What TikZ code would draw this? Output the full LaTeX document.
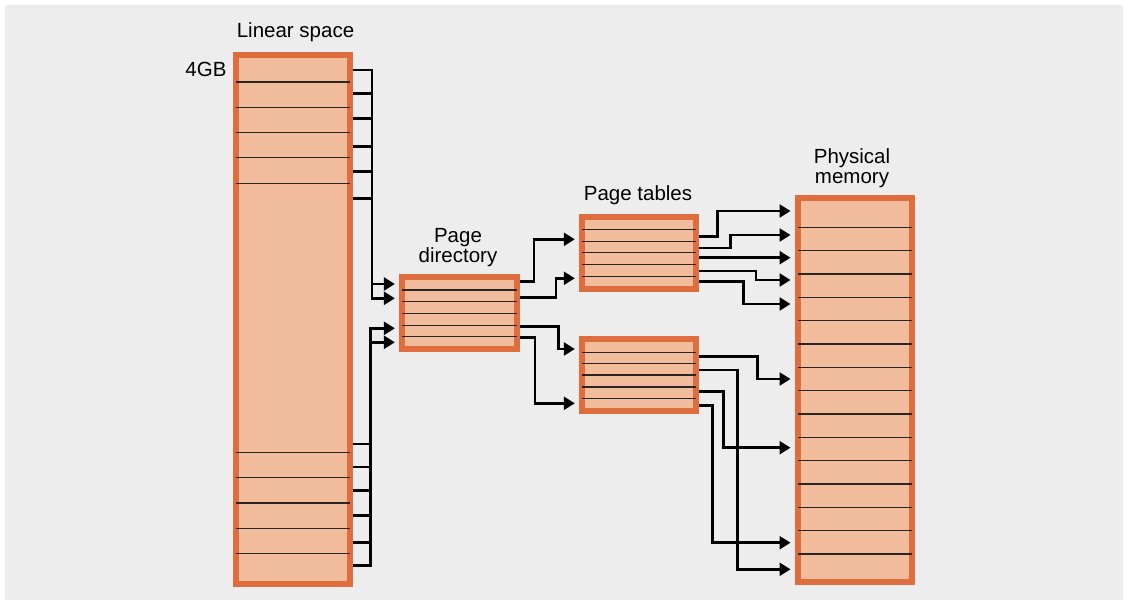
\documentclass[tikz,border=0pt]{standalone}
\usepackage{fontspec}
\setmainfont{Liberation Sans}
\usetikzlibrary{arrows.meta}

\definecolor{bggrey}{HTML}{EDEDED}
\definecolor{frameorange}{HTML}{DF6D3D}
\definecolor{cellfill}{HTML}{F0BC9C}
\definecolor{rowline}{HTML}{2A2520}

\tikzset{
  membox/.style={draw=frameorange, line width=6pt, fill=cellfill, inner sep=0pt, rectangle},
  rowrule/.style={draw=rowline, line width=1.2pt, shorten <=3pt, shorten >=3pt},
  wire/.style={draw=black, line width=2.5pt},
  feed/.style={wire, -{Triangle[length=11pt,width=13pt]}, shorten >=4.5pt},
  caption/.style={font=\fontsize{20.5}{20.5}\selectfont, anchor=base, inner sep=0pt, align=center},
}

\begin{document}
\begin{tikzpicture}[x=1pt, y=-1pt]
  % canvas
  \useasboundingbox (0,0) rectangle (1129,604);
  \fill[white] (0,0) rectangle (1129,604);
  \fill[bggrey] (5,5) rectangle (1123,600);

  % boxes
  \node[membox, minimum width=114pt, minimum height=528.4pt] (ls) at (293.3,319.5) {};
  \node[membox, minimum width=114.7pt, minimum height=72.3pt] (pd) at (459.7,313.2) {};
  \node[membox, minimum width=114pt, minimum height=71.4pt] (pt1) at (639.3,253) {};
  \node[membox, minimum width=114pt, minimum height=72pt] (pt2) at (639.3,375) {};
  \node[membox, minimum width=114pt, minimum height=384pt] (pm) at (855,390) {};

  % row rules inside the boxes
  \foreach \y in {82,107.3,132.7,157.7,183.3,452.3,477.7,503,528.3,553.7}
    \draw[rowrule] (ls.west |- 0,\y) -- (ls.east |- 0,\y);
  \foreach \y in {290,301.7,313.7,325.7,336.7}
    \draw[rowrule] (pd.west |- 0,\y) -- (pd.east |- 0,\y);
  \foreach \y in {229.3,241.3,252.7,264.7,276.7}
    \draw[rowrule] (pt1.west |- 0,\y) -- (pt1.east |- 0,\y);
  \foreach \y in {352.3,363.7,375,387,398.7}
    \draw[rowrule] (pt2.west |- 0,\y) -- (pt2.east |- 0,\y);
  \foreach \i in {0,...,14}
    \draw[rowrule] (pm.west |- 0,{227.3+23.34*\i}) -- (pm.east |- 0,{227.3+23.34*\i});

  % captions
  \node[caption] (lscap) at (295.5,37.7) {Linear space};
  \node[caption, anchor=base east] (gb) at (226.7,76.7) {4GB};
  \node[caption] (pdcap1) at (458,242.7) {Page};
  \node[caption] (pdcap2) at (458,262.3) {directory};
  \node[caption] (ptcap) at (638,200.7) {Page tables};
  \node[caption] (pmcap1) at (852,164) {Physical};
  \node[caption] (pmcap2) at (852,183.5) {memory};

  % buses beside the linear space
  \coordinate (busA) at (372,0);
  \coordinate (busB) at (370.7,0);

  % upper entries of the linear space feed the page directory
  \foreach \y in {93.3,118.7,146.7,171.7,198.3}
    \draw[wire] (ls.east |- 0,\y) -- (busA |- 0,\y);
  \draw[feed] (ls.east |- 0,70) -| (busA |- 0,298.3) -- (pd.west |- 0,298.3);
  \draw[feed] (busA |- 0,284) -- (pd.west |- 0,284);

  % lower entries of the linear space feed the page directory
  \foreach \y in {444,467,490.3,515.3,542.7}
    \draw[wire] (ls.east |- 0,\y) -- (busB |- 0,\y);
  \draw[feed] (ls.east |- 0,565.3) -| (busB |- 0,328.3) -- (pd.west |- 0,328.3);
  \draw[feed] (busB |- 0,342.3) -- (pd.west |- 0,342.3);

  % page directory to page tables
  \draw[feed] (pd.east |- 0,281.7) -| (534,239.3) -- (pt1.west |- 0,239.3);
  \draw[feed] (pd.east |- 0,297.3) -| (556,278.3) -- (pt1.west |- 0,278.3);
  \draw[feed] (pd.east |- 0,326.7) -| (558.3,349) -- (pt2.west |- 0,349);
  \draw[feed] (pd.east |- 0,337.7) -| (535,403.3) -- (pt2.west |- 0,403.3);

  % first page table to physical memory
  \draw[feed] (pt1.east |- 0,236.7) -| (717.3,211) -- (pm.west |- 0,211);
  \draw[feed] (pt1.east |- 0,248) -| (730.7,235) -- (pm.west |- 0,235);
  \draw[feed] (pt1.east |- 0,257.7) -- (pm.west |- 0,257.7);
  \draw[feed] (pt1.east |- 0,271) -| (756,280) -- (pm.west |- 0,280);
  \draw[feed] (pt1.east |- 0,281.7) -| (743.3,304) -- (pm.west |- 0,304);

  % second page table to physical memory
  \draw[feed] (pt2.east |- 0,356.7) -| (757.3,379) -- (pm.west |- 0,379);
  \draw[feed] (pt2.east |- 0,370) -| (737.5,569.3) -- (pm.west |- 0,569.3);
  \draw[feed] (pt2.east |- 0,391.5) -| (723.3,447.7) -- (pm.west |- 0,447.7);
  \draw[feed] (pt2.east |- 0,405.5) -| (712.3,542.7) -- (pm.west |- 0,542.7);
\end{tikzpicture}
\end{document}
